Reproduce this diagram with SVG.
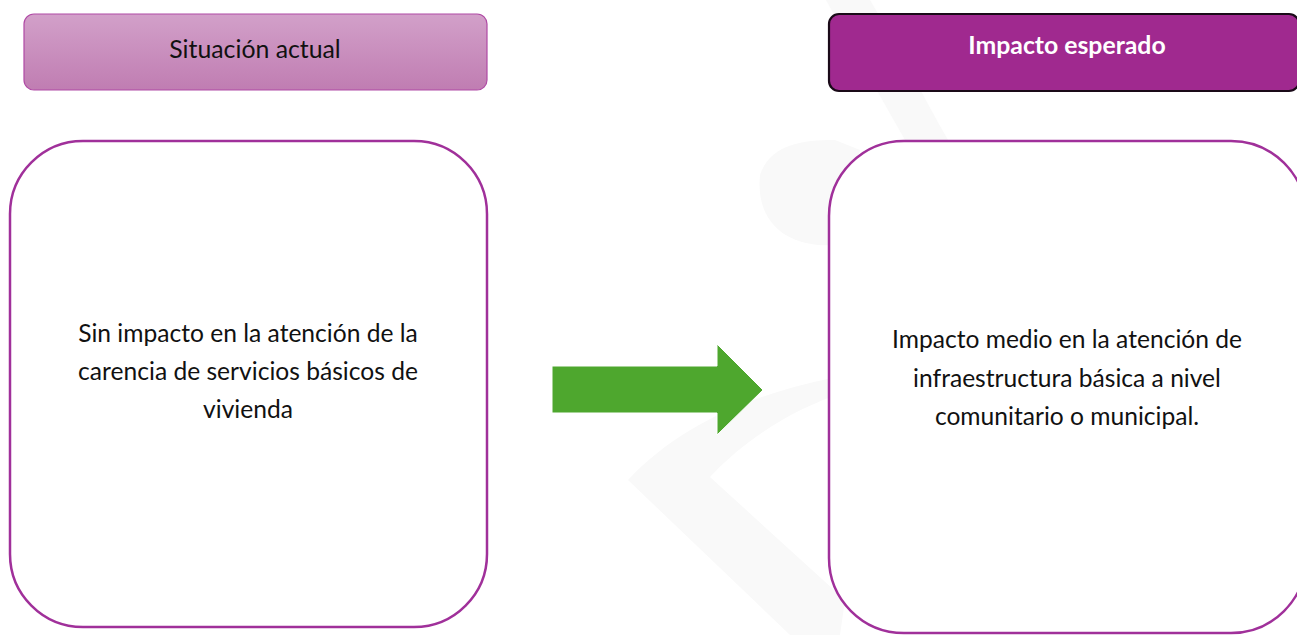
<svg xmlns="http://www.w3.org/2000/svg" width="1297" height="635" viewBox="0 0 1297 635">
  <defs>
    <linearGradient id="hdrGrad" x1="0" y1="0" x2="0" y2="1">
      <stop offset="0" stop-color="#d2a0c9"/>
      <stop offset="1" stop-color="#c07db2"/>
    </linearGradient>
    <style>
      .txt { font-family: Lato, "Open Sans", "Liberation Sans", sans-serif; fill: #111111; text-anchor: middle; }
      .body { font-size: 24.6px; }
      .hdr { font-size: 24.8px; }
      .hdrb { font-size: 24.8px; font-weight: bold; fill: #ffffff; }
      .box { fill: #ffffff; stroke: #a0309a; stroke-width: 2.5; }
      .wm { fill: #f9f9f9; }
    </style>
  </defs>
  <rect width="1297" height="635" fill="#ffffff"/>
  <g id="watermark">
    <path class="wm" d="M628,480 C680,425 750,395 832,378 L845,392 C790,410 745,440 710,477 L845,600 L840,635 L790,635 Z"/>
    <path class="wm" d="M760,175 C770,145 800,140 835,140 L860,150 L835,245 C790,248 755,225 760,175 Z"/>
    <path class="wm" d="M826,0 L870,0 C900,50 925,100 948,140 L905,140 C880,95 850,45 826,0 Z"/>
  </g>
  <g id="header-left">
    <rect x="24" y="14" width="463" height="76" rx="10" fill="url(#hdrGrad)" stroke="#b04aa5" stroke-width="1.2"/>
    <text class="txt hdr" x="255" y="58">Situación actual</text>
  </g>
  <g id="header-right">
    <rect x="829" y="14" width="470" height="77" rx="10" fill="#a0298f" stroke="#1a0a18" stroke-width="2.2"/>
    <text class="txt hdrb" x="1067" y="54">Impacto esperado</text>
  </g>
  <g id="box-left">
    <rect class="box" x="10" y="141" width="477" height="486" rx="73"/>
    <text class="txt body" x="248" y="342">Sin impacto en la atención de la</text>
    <text class="txt body" x="248" y="380">carencia de servicios básicos de</text>
    <text class="txt body" x="248" y="418">vivienda</text>
  </g>
  <g id="box-right">
    <rect class="box" x="829" y="141" width="477" height="492" rx="75"/>
    <text class="txt body" x="1067" y="348">Impacto medio en la atención de</text>
    <text class="txt body" x="1067" y="387">infraestructura básica a nivel</text>
    <text class="txt body" x="1067" y="425">comunitario o municipal.</text>
  </g>
  <g id="connectors">
    <path d="M552,366 L717,366 L717,344 L763,390 L717,435 L717,413 L552,413 Z" fill="#4ea72e" stroke="#ffffff" stroke-width="1"/>
  </g>
</svg>
